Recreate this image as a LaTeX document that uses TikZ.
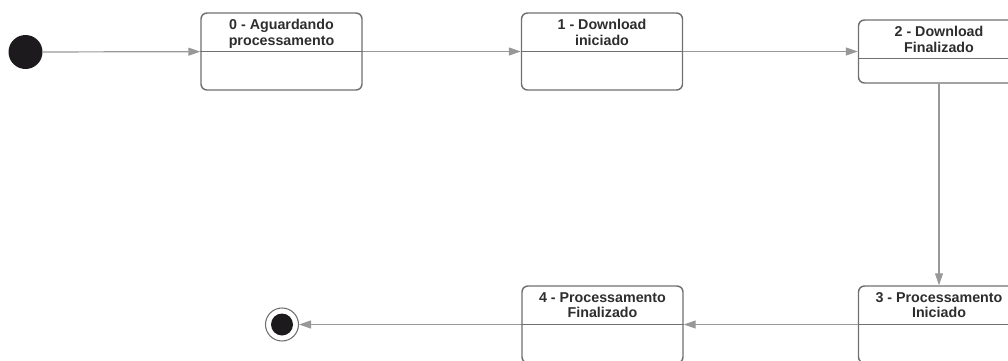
\documentclass[tikz,border=0pt]{standalone}
\usepackage{fontspec}
\setmainfont{Liberation Sans}
\usetikzlibrary{arrows.meta,positioning}
\definecolor{boxgray}{RGB}{112,112,112}
\definecolor{flowgray}{RGB}{152,152,152}
\definecolor{labelgray}{RGB}{45,45,45}
\definecolor{dotblack}{RGB}{28,26,28}
\tikzset{
  statebox/.style={draw=boxgray,line width=1.1pt,rounded corners=4.5pt,
    minimum width=120.75pt,minimum height=57.75pt,inner sep=0pt},
  statelabel/.style={anchor=north,inner sep=0pt,yshift=-5.25pt,align=center,
    text=labelgray,font=\fontsize{10.7}{11.6}\selectfont\bfseries},
  divline/.style={draw=boxgray,line width=1pt},
  flow/.style={draw=flowgray,line width=0.9pt,-{Triangle[length=9pt,width=6pt]}},
}
\begin{document}
\begin{tikzpicture}[x=0.75pt,y=0.75pt,yscale=-1,xscale=1]
\useasboundingbox (0,0) rectangle (1008,361);
\clip (0,0) rectangle (1008,361);

% initial and final states
\node [circle,fill=dotblack,minimum size=25.5pt,inner sep=0pt] (start) at (25.5,52) {};
\node [circle,draw=boxgray,line width=0.8pt,minimum size=24.75pt,inner sep=0pt] (stop) at (282,324.5) {};
\node [circle,fill=dotblack,minimum size=16.5pt,inner sep=0pt] (stopdot) at (stop.center) {};

% states
\node [statebox] (s0) at (281.5,51.5) {};
\node [statebox] (s1) at (602,51.5) {};
\node [statebox,minimum height=47.25pt] (s2) at (939,51.5) {};
\node [statebox] (s3) at (939,324.5) {};
\node [statebox] (s4) at (602.5,324.5) {};

\node [statelabel] (t0) at (s0.north) {0 - Aguardando\\processamento};
\node [statelabel] (t1) at (s1.north) {1 - Download\\iniciado};
\node [statelabel] (t2) at (s2.north) {2 - Download\\Finalizado};
\node [statelabel] (t3) at (s3.north) {3 - Processamento\\Iniciado};
\node [statelabel] (t4) at (s4.north) {4 - Processamento\\Finalizado};

% compartment lines, 39px below the top
\foreach \s in {s0,s1,s2,s3,s4}
  \draw [divline] ([yshift=29.25pt]\s.north west) -- ([yshift=29.25pt]\s.north east);

% transitions
\draw [flow] (start) -- (s0);
\draw [flow] (s0) -- (s1);
\draw [flow] (s1) -- (s2);
\draw [flow] (s2) -- (s3);
\draw [flow] (s3) -- (s4);
\draw [flow] (s4) -- (stop);

\end{tikzpicture}
\end{document}
